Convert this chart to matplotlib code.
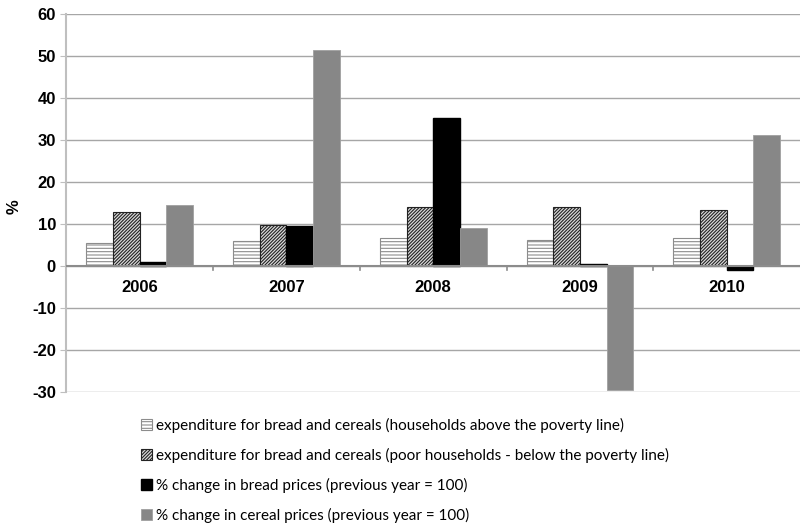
import numpy as np
import matplotlib
matplotlib.use('Agg')
import matplotlib.pyplot as plt

years = ['2006', '2007', '2008', '2009', '2010']
above_poverty = [5.4, 5.9, 6.6, 6.2, 6.7]
below_poverty = [12.8, 9.7, 14.2, 14.0, 13.3]
bread_prices = [0.9, 9.5, 35.2, 0.5, -1.0]
cereal_prices = [14.6, 51.5, 9.0, -29.6, 31.3]

labels = ['expenditure for bread and cereals (households above the poverty line)',
          'expenditure for bread and cereals (poor households - below the poverty line)',
          '% change in bread prices (previous year = 100)',
          '% change in cereal prices (previous year = 100)']

plt.rcParams['hatch.linewidth'] = 0.8
plt.rcParams['axes.unicode_minus'] = False

fig = plt.figure(figsize=(8, 5.25), dpi=100)
ax = fig.add_axes([0.083, 0.253, 0.917, 0.72])

x = np.arange(len(years))
w = 1 / 5.5

b1 = ax.bar(x - 1.5 * w, above_poverty, w, color='white', edgecolor='#8c8c8c', hatch='-----', linewidth=0.8, label=labels[0], zorder=3)
b2 = ax.bar(x - 0.5 * w, below_poverty, w, color='#d9d9d9', edgecolor='#222222', hatch='//////////', linewidth=0.8, label=labels[1], zorder=3)
b3 = ax.bar(x + 0.5 * w, bread_prices, w, color='black', edgecolor='black', label=labels[2], zorder=3)
b4 = ax.bar(x + 1.5 * w, cereal_prices, w, color='#878787', edgecolor='#a0a0a0', linewidth=0.6, label=labels[3], zorder=3)

ax.set_xlim(-0.5, 4.5)
ax.set_ylim(-30, 60)
ax.set_yticks(range(-30, 61, 10))
ax.yaxis.grid(True, color='#a6a6a6', linewidth=1)
ax.set_axisbelow(True)
for s in ['top', 'right', 'bottom']:
    ax.spines[s].set_visible(False)
ax.spines['left'].set_color('#bfbfbf')
ax.spines['left'].set_linewidth(1.5)
ax.axhline(0, color='#8c8c8c', linewidth=1.5, zorder=4)

ax.set_xticks([])
ax.tick_params(axis='y', length=4, color='#bfbfbf', labelsize=12)
for t in ax.get_yticklabels():
    t.set_fontweight('bold')
    t.set_fontfamily('Liberation Sans')

for i, yr in enumerate(years):
    ax.annotate(yr, (i, 0), xytext=(0, -10), textcoords='offset points',
                ha='center', va='top', fontsize=12, fontweight='bold', family='Liberation Sans')
for i in range(1, len(years)):
    ax.plot([i - 0.5, i - 0.5], [0, -1], color='#8c8c8c', linewidth=1.2, zorder=4)

fig.text(14 / 800, 1 - 207 / 525, '%', rotation=90, ha='center', va='center',
         fontsize=12, fontweight='bold', family='Liberation Sans')

fig.legend(handles=[b1, b2, b3, b4], loc='upper left', bbox_to_anchor=(0.159, 0.23),
           frameon=False, prop={'family': 'Lato', 'size': 11}, handlelength=0.7,
           handleheight=0.7, handletextpad=0.3, labelspacing=0.98)

fig.savefig('out.png', dpi=100)
